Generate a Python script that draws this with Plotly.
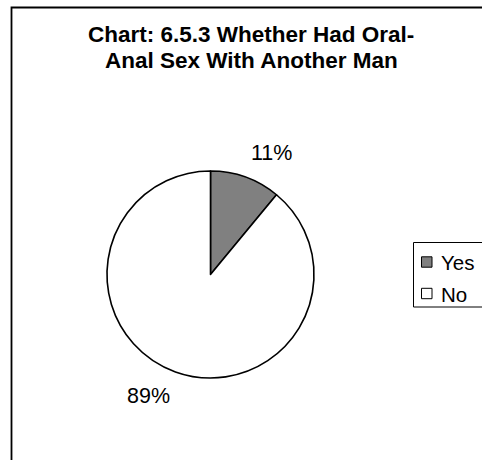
import math
import plotly.graph_objects as go

# ---- data ----
categories = ["Yes", "No"]
values = [11, 89]
colors = ["#808080", "#FFFFFF"]
title_lines = ["Chart: 6.5.3 Whether Had Oral-", "Anal Sex With Another Man"]

W, H = 482, 460
FONT = "Liberation Sans, Arial, sans-serif"

# pie geometry (pixels)
cx_px, cy_px, r_px = 210.5, 274.5, 103.5
dom_x = [(cx_px - r_px) / W, (cx_px + r_px) / W]
dom_y = [1 - (cy_px + r_px) / H, 1 - (cy_px - r_px) / H]

fig = go.Figure()
fig.add_trace(go.Pie(
    labels=categories,
    values=values,
    sort=False,
    direction="clockwise",
    rotation=0,
    marker=dict(colors=colors, line=dict(color="#000000", width=1.6)),
    textinfo="none",
    hoverinfo="label+percent",
    showlegend=False,
    domain=dict(x=dom_x, y=dom_y),
))

annotations = []
# title (two lines)
for line, yc in zip(title_lines, [34.5, 60.5]):
    annotations.append(dict(
        text="<b>" + line + "</b>", x=251 / W, y=1 - yc / H,
        xref="paper", yref="paper", xanchor="center", yanchor="middle",
        showarrow=False, font=dict(family=FONT, size=22.5, color="#000000"),
    ))

# data labels (computed from the values)
total = sum(values)
cum = 0.0
for v in values:
    mid = (cum + v / 2) / total * 2 * math.pi
    cum += v
    R = 114
    px = cx_px + R * math.sin(mid)
    py = cy_px - R * math.cos(mid)
    pct = round(v / total * 100)
    annotations.append(dict(
        text=f"{pct}%", x=px / W, y=1 - py / H, xref="paper", yref="paper",
        xanchor="left" if math.sin(mid) > 0 else "right",
        yanchor="bottom" if math.cos(mid) > 0 else "top",
        showarrow=False, font=dict(family=FONT, size=21.5, color="#000000"),
    ))

shapes = []
# outer chart border (cropped on right and bottom)
shapes.append(dict(type="rect", xref="paper", yref="paper",
                   x0=11.5 / W, x1=1.2, y0=-0.2, y1=1 - 7.5 / H,
                   line=dict(color="#000000", width=1.8), fillcolor="rgba(0,0,0,0)"))
# legend box
shapes.append(dict(type="rect", xref="paper", yref="paper",
                   x0=413.5 / W, x1=1.2, y0=1 - 307 / H, y1=1 - 242.5 / H,
                   line=dict(color="#000000", width=1), fillcolor="#FFFFFF"))
row_y = [262, 293.5]
for cat, col, yc in zip(categories, colors, row_y):
    shapes.append(dict(type="rect", xref="paper", yref="paper",
                       x0=421.5 / W, x1=432 / W, y0=1 - (yc + 5.2) / H, y1=1 - (yc - 5.2) / H,
                       line=dict(color="#000000", width=1), fillcolor=col))
    annotations.append(dict(
        text=cat, x=439 / W, y=1 - (yc + 0.5) / H, xref="paper", yref="paper",
        xanchor="left", yanchor="middle", showarrow=False,
        font=dict(family=FONT, size=20.5, color="#000000"),
    ))

fig.update_layout(
    width=W, height=H,
    margin=dict(l=0, r=0, t=0, b=0),
    paper_bgcolor="#FFFFFF", plot_bgcolor="#FFFFFF",
    annotations=annotations, shapes=shapes,
    showlegend=False,
)

fig.write_html("out.html")
